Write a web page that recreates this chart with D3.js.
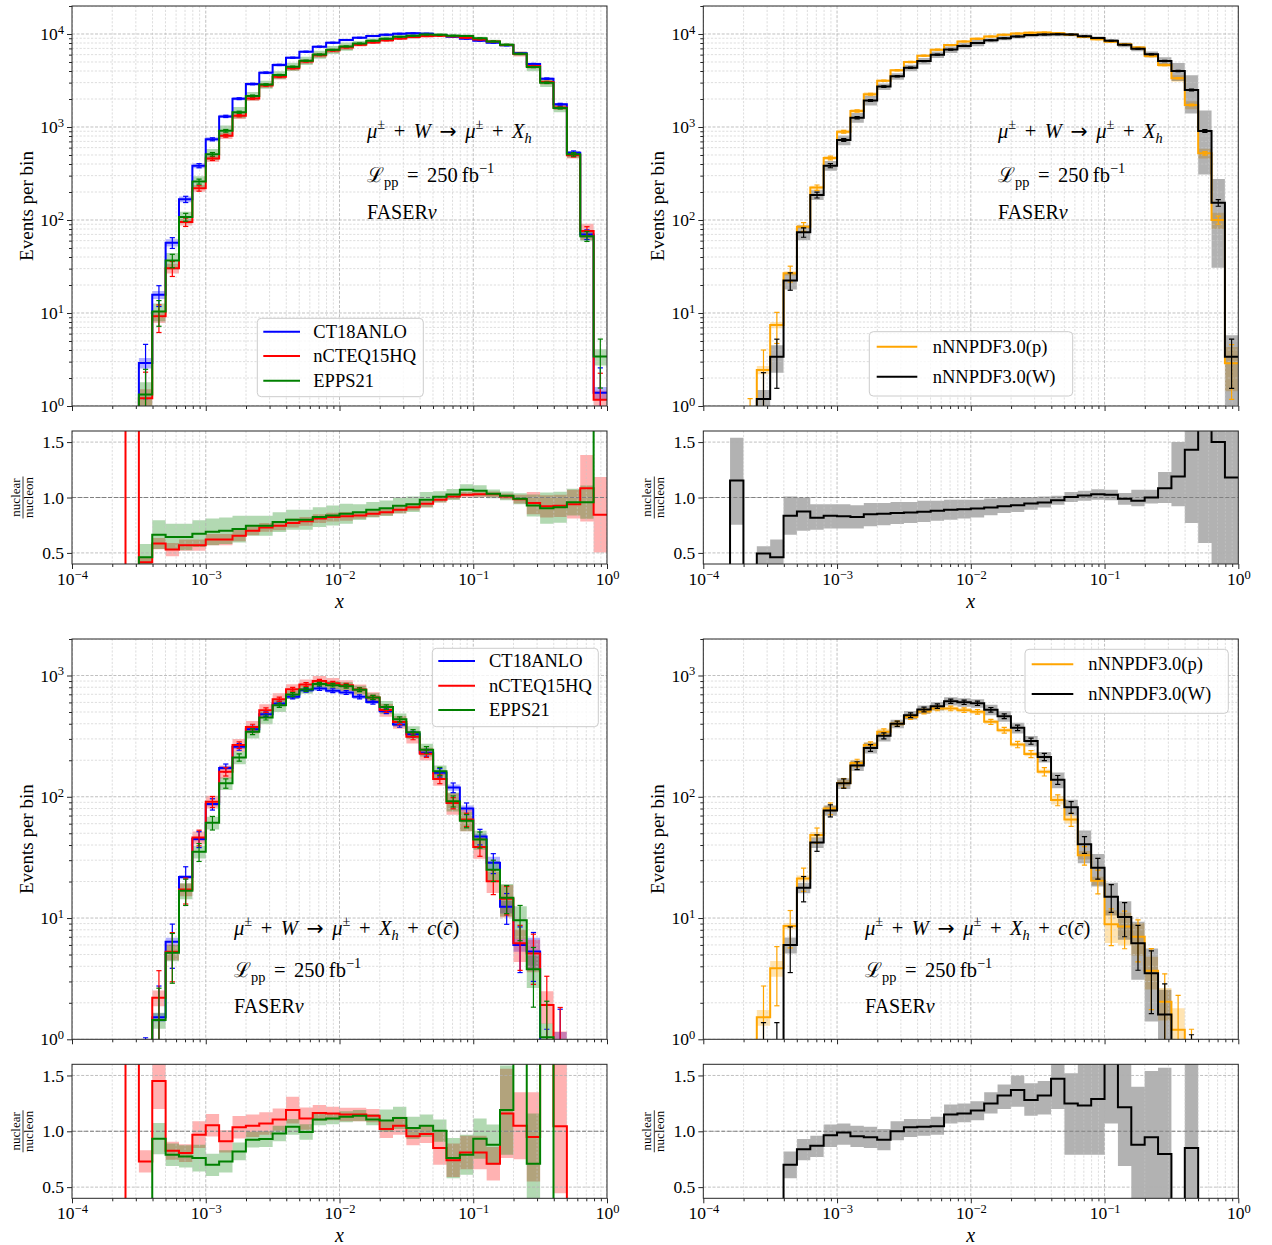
<!DOCTYPE html>
<html><head><meta charset="utf-8">
<script src="https://cdn.jsdelivr.net/npm/d3@7"></script>
<style>
body{margin:0;background:#fff}
svg{display:block}
text{font-family:"Liberation Serif","DejaVu Serif",serif;fill:#000}
</style>
</head><body>
<svg id="c" width="1272" height="1245"></svg>
<script>
// ---------------- DATA ----------------
// bin edges (log10 x), 40 bins of 0.1 decade from 1e-4 to 1
const binLog10Edges = [-4.0,-3.9,-3.8,-3.7,-3.6,-3.5,-3.4,-3.3,-3.2,-3.1,-3.0,-2.9,-2.8,-2.7,-2.6,-2.5,-2.4,-2.3,-2.2,-2.1,-2.0,-1.9,-1.8,-1.7,-1.6,-1.5,-1.4,-1.3,-1.2,-1.1,-1.0,-0.9,-0.8,-0.7,-0.6,-0.5,-0.4,-0.3,-0.2,-0.1,0.0];
const xTickExp = [-4,-3,-2,-1,0];
const yTickExpTop = [0,1,2,3,4];
const yTickExpBottom = [0,1,2,3];
const ratioTicks = [0.5,1.0,1.5];
const pdfNamesLeft = ["CT18ANLO","nCTEQ15HQ","EPPS21"];
const pdfNamesRight = ["nNNPDF3.0(p)","nNNPDF3.0(W)"];

// ---- Panel A: inclusive, CT18ANLO / nCTEQ15HQ / EPPS21 ----
const incCT18 = [0,0,0,0,0, 2.9,15.7,57,167,384, 738,1300,2016,2900,3840, 4650,5560,6450,7310,8060, 8620,9120,9510,9840,10070, 10170,10070,9750,9350,8910, 8480,8060,7550,6200,4760, 3310,1755,530,70,1.39];
const incCT18Err = [0,0,0,0,0, 1.7,3.96,7.55,12.9,19.6, 27.2,36,44.9,53.9,62, 68.2,74.6,80.3,85.5,89.8, 92.8,95.5,97.5,99.2,100.3, 100.8,100.3,98.7,96.7,94.4, 92.1,89.8,86.9,78.7,69, 57.5,41.9,23,8.4,1.18];
const incCT18Band = [0,0,0,0,0, 0.13,0.10,0.09,0.07,0.06, 0.05,0.04,0.04,0.04,0.04, 0.04,0.03,0.03,0.03,0.03, 0.03,0.03,0.03,0.03,0.03, 0.03,0.03,0.02,0.02,0.02, 0.02,0.02,0.02,0.03,0.03, 0.03,0.03,0.04,0.08,0.15];
const incNCTEQ = [0,0,0,0,0.3, 1.21,9.2,30.2,95,219, 458,806,1322,2030,2800, 3464,4281,5063,5921,6633, 7155,7643,8112,8541,8952, 9285,9496,9555,9434,9124, 8734,8302,7626,6107,4522, 3045,1623,498,76,1.17];
const incNCTEQErr = [0,0,0,0,0.55, 1.1,3.03,5.5,9.75,14.8, 21.4,28.4,36.4,45.1,52.9, 58.9,65.4,71.2,77,81.4, 84.6,87.4,90.1,92.4,94.6, 96.4,97.4,97.7,97.1,95.5, 93.5,91.1,87.3,78.1,67.2, 55.2,40.3,22.3,8.7,1.08];
const incNCTEQBand = [0,0,0,0,0.3, 0.25,0.15,0.12,0.08,0.08, 0.08,0.08,0.08,0.06,0.06, 0.06,0.06,0.06,0.06,0.06, 0.06,0.04,0.04,0.04,0.04, 0.04,0.04,0.03,0.03,0.03, 0.03,0.03,0.03,0.06,0.06, 0.06,0.06,0.08,0.2,0.25];
const incEPPS = [0,0,0,0,0, 1.33,10.4,36.7,107.5,259, 509,910,1441,2160,2860, 3618,4448,5160,6016,6754, 7353,7916,8454,8895,9315, 9560,9869,9809,9602,9525, 8989,8326,7663,6126,4417, 2992,1602,508,67,3.4];
const incEPPSErr = [0,0,0,0,0, 1.15,3.2,6.06,10.4,16.1, 22.6,30.2,38,46.5,53.5, 60.1,66.7,71.8,77.6,82.2, 85.7,89,91.9,94.3,96.5, 97.8,99.3,99,98,97.6, 94.8,91.2,87.5,78.3,66.5, 54.7,40,22.5,8.2,1.84];
const incEPPSBand = [0,0,0,0,0, 0.35,0.22,0.2,0.14,0.14, 0.14,0.14,0.14,0.1,0.1, 0.1,0.1,0.1,0.1,0.1, 0.1,0.06,0.06,0.06,0.06, 0.06,0.06,0.04,0.04,0.04, 0.04,0.04,0.04,0.05,0.1, 0.1,0.1,0.08,0.12,0.2];
const incRatioNCTEQ = [0,0,0,0,3, 0.416,0.584,0.53,0.57,0.57, 0.62,0.62,0.656,0.70,0.73, 0.745,0.77,0.785,0.81,0.823, 0.83,0.838,0.853,0.868,0.889, 0.913,0.943,0.98,1.009,1.024, 1.03,1.03,1.01,0.985,0.95, 0.92,0.925,0.94,1.084,0.844];
const incRatioNCTEQBand = [0,0,0,0,0, 0.05,0.05,0.06,0.05,0.05, 0.05,0.05,0.05,0.04,0.04, 0.04,0.04,0.04,0.04,0.04, 0.04,0.03,0.03,0.03,0.03, 0.03,0.03,0.025,0.025,0.025, 0.025,0.025,0.025,0.04,0.1, 0.1,0.1,0.13,0.3,0.34];
const incRatioEPPS = [0,0,0,0,0, 0.46,0.665,0.644,0.644,0.674, 0.69,0.70,0.715,0.745,0.745, 0.778,0.80,0.80,0.823,0.838, 0.853,0.868,0.889,0.904,0.925, 0.94,0.98,1.006,1.027,1.069, 1.06,1.033,1.015,0.988,0.928, 0.904,0.913,0.958,0.958,3];
const incRatioEPPSBand = [0,0,0,0,0, 0.12,0.13,0.12,0.12,0.12, 0.12,0.12,0.12,0.09,0.09, 0.09,0.09,0.09,0.09,0.09, 0.09,0.07,0.07,0.07,0.07, 0.07,0.07,0.05,0.05,0.05, 0.05,0.04,0.04,0.05,0.1, 0.14,0.14,0.12,0.15,1];

// ---- Panel B: inclusive, nNNPDF3.0(p) / nNNPDF3.0(W) ----
const incNNp = [0,0,0.3,0.5,2.44, 7.43,26.7,84.7,223,464, 891,1486,2248,3147,4065, 5000,5850,6780,7600,8300, 8900,9400,9800,10100,10300, 10350,10200,9800,9300,8800, 8250,7750,7150,5800,4645, 3340,1725,521,100,2.88];
const incNNpErr = [0,0,0.55,0.7,1.56, 2.73,5.17,9.2,14.9,21.5, 29.8,38.5,47.4,56.1,63.8, 70.7,76.5,82.3,87.2,91.1, 94.3,97,99,100.5,101.5, 101.7,101,99,96.4,93.8, 90.8,88,84.6,76.2,68.2, 57.8,41.5,22.8,10,1.7];
const incNNpBand = [0,0,0.1,0.1,0.1, 0.08,0.05,0.05,0.05,0.05, 0.05,0.05,0.05,0.03,0.03, 0.03,0.03,0.03,0.03,0.03, 0.03,0.03,0.03,0.03,0.03, 0.03,0.03,0.03,0.03,0.03, 0.03,0.03,0.03,0.04,0.05, 0.08,0.1,0.12,0.2,0.5];
const incNNW = [0,0,0.35,0,1.19, 3.39,22.3,73.8,186,384, 725,1260,1930,2720,3510, 4330,5110,6000,6800,7450, 8010,8550,9020,9390,9730, 9880,9950,9850,9470,9060, 8460,7660,6940,6050,5125, 4000,2500,906,153,3.39];
const incNNWErr = [0,0,0.6,0,1.09, 1.84,4.72,8.6,13.6,19.6, 26.9,35.5,43.9,52.2,59.2, 65.8,71.5,77.5,82.5,86.3, 89.5,92.5,95,96.9,98.6, 99.4,99.7,99.2,97.3,95.2, 92,87.5,83.3,77.8,71.6, 63.2,50,30.1,12.4,1.84];
const incNNWBand = [0,0,0.3,0,0.25, 0.33,0.2,0.18,0.12,0.12, 0.12,0.12,0.12,0.08,0.08, 0.08,0.08,0.08,0.08,0.08, 0.08,0.05,0.05,0.05,0.05, 0.05,0.05,0.04,0.04,0.04, 0.04,0.06,0.06,0.07,0.1, 0.22,0.44,0.66,0.8,0.7];
const incRatioNN = [0,0,1.153,0,0.494, 0.46,0.835,0.874,0.817,0.835, 0.83,0.823,0.85,0.853,0.86, 0.865,0.871,0.88,0.889,0.893, 0.90,0.91,0.92,0.93,0.945, 0.955,0.975,1.005,1.018,1.03, 1.025,0.988,0.97,1.0,1.084, 1.19,1.43,1.75,1.5,1.18];
const incRatioNNLo = [0,0,0.755,0,0.3, 0.3,0.665,0.70,0.71,0.72, 0.72,0.72,0.74,0.75,0.76, 0.77,0.78,0.79,0.80,0.81, 0.82,0.84,0.86,0.87,0.89, 0.91,0.935,0.96,0.97,0.98, 0.975,0.935,0.92,0.945,0.95, 0.92,0.77,0.59,0.3,0.3];
const incRatioNNHi = [0,0,1.54,0,0.56, 0.62,1.01,1.0,0.94,0.94, 0.94,0.93,0.95,0.95,0.96, 0.96,0.97,0.97,0.98,0.98, 0.98,0.99,1.0,1.0,1.005, 1.01,1.015,1.05,1.06,1.075, 1.07,1.04,1.07,1.07,1.23, 1.5,1.8,2,2,2];

// ---- Panel C: charm, CT18ANLO / nCTEQ15HQ / EPPS21 ----
const charmCT18 = [0,0,0,0,0, 0.4,1.52,6.38,21.8,44.8, 87,173,258,361,480, 588,667,757,780,750, 724,667,606,508,394, 328,231,158,119,80, 47,28.6,12.4,6.0,5.3, 0.5,0.85,0,0,0];
const charmCT18Err = [0,0,0,0,0, 0.63,1.23,2.53,4.67,6.7, 9.3,13.2,16.1,19,21.9, 24.2,25.8,27.5,27.9,27.4, 26.9,25.8,24.6,22.5,19.8, 18.1,15.2,12.6,10.9,8.9, 6.9,5.35,3.52,2.45,2.3, 0.71,0.92,0,0,0];
const charmCT18Band = [0,0,0,0,0, 0.1,0.08,0.08,0.04,0.04, 0.04,0.04,0.04,0.04,0.04, 0.04,0.04,0.04,0.04,0.04, 0.04,0.04,0.04,0.04,0.04, 0.04,0.04,0.04,0.06,0.06, 0.06,0.12,0.12,0.12,0.3, 0.35,0.35,0,0,0];
const charmNCTEQ = [0,0,0,0,0.3, 0.29,2.2,5.28,17.2,46.2, 91,161,267,377,518, 638,771,843,900,865, 832,767,660,520,414, 313,226,140,89,65, 38.5,20.1,14.4,6.2,5.1, 1.92,0.89,0,0,0];
const charmNCTEQErr = [0,0,0,0,0.55, 0.54,1.48,2.3,4.15,6.8, 9.5,12.7,16.3,19.4,22.8, 25.3,27.8,29,30,29.4, 28.8,27.7,25.7,22.8,20.3, 17.7,15,11.8,9.4,8.1, 6.2,4.5,3.8,2.5,2.26, 1.39,0.94,0,0,0];
const charmNCTEQBand = [0,0,0,0,0.15, 0.15,0.15,0.15,0.12,0.12, 0.12,0.12,0.12,0.12,0.12, 0.12,0.1,0.1,0.1,0.1, 0.1,0.1,0.1,0.12,0.12, 0.12,0.12,0.12,0.2,0.2, 0.2,0.2,0.3,0.3,0.3, 0.3,0.3,0,0,0];
const charmEPPS = [0,0,0,0,0, 0,1.44,5.18,16.8,35.2, 61,129,211,344,451, 569,697,767,850,833, 815,763,660,550,435, 340,244,162,92,63.5, 44.5,25,14.7,9.6,3.78, 1.04,0,0,0,0];
const charmEPPSErr = [0,0,0,0,0, 0,1.2,2.28,4.1,5.93, 7.8,11.4,14.5,18.5,21.2, 23.9,26.4,27.7,29.2,28.9, 28.5,27.6,25.7,23.5,20.9, 18.4,15.6,12.7,9.6,8, 6.7,5,3.83,3.1,1.94, 1.02,0,0,0,0];
const charmEPPSBand = [0,0,0,0,0, 0,0.15,0.15,0.15,0.12, 0.12,0.12,0.12,0.12,0.12, 0.12,0.08,0.08,0.08,0.08, 0.08,0.08,0.08,0.12,0.12, 0.12,0.12,0.12,0.18,0.18, 0.18,0.18,0.3,0.3,0.3, 0.3,0,0,0,0];
const charmRatioNCTEQ = [0,0,0,0,3, 0.73,1.45,0.826,0.805,0.97, 1.054,0.91,1.036,1.05,1.07, 1.105,1.19,1.114,1.165,1.16, 1.15,1.15,1.14,1.02,1.05, 0.955,0.976,0.85,0.74,0.81, 0.81,0.71,1.16,1.05,0.95, 3,1.045,0,0,0];
const charmRatioNCTEQBand = [0,0,0,0,0, 0.1,0.25,0.08,0.08,0.12, 0.1,0.1,0.1,0.1,0.1, 0.1,0.12,0.1,0.07,0.06, 0.06,0.06,0.06,0.08,0.08, 0.08,0.08,0.15,0.15,0.15, 0.15,0.15,0.4,0.3,0.4, 0,0.6,0,0,0];
const charmRatioEPPS = [0,0,0,0,0, 0,0.934,0.79,0.775,0.76, 0.70,0.73,0.82,0.925,0.93, 0.98,1.04,0.994,1.105,1.114, 1.13,1.14,1.105,1.096,1.12, 1.03,1.05,1.006,0.76,0.79, 0.934,0.88,1.19,3,0.71, 3,0,0,0,0];
const charmRatioEPPSBand = [0,0,0,0,0, 0,0.14,0.1,0.1,0.12, 0.1,0.1,0.08,0.07,0.07, 0.07,0.07,0.07,0.05,0.05, 0.05,0.05,0.05,0.1,0.1, 0.1,0.1,0.1,0.18,0.18, 0.18,0.18,0.4,0,0.45, 0,0,0,0,0];

// ---- Panel D: charm, nNNPDF3.0(p) / nNNPDF3.0(W) ----
const charmNNp = [0,0,0,0,1.52, 3.85,8.6,21.2,48.3,80, 130,190,267,344,400, 455,505,535,535,518, 502,415,354,270,225, 161,94,65,33,20.3, 8.9,8.5,7.0,3.68,2.04, 1.2,0.5,0,0,0];
const charmNNpErr = [0,0,0,0,1.23, 1.96,2.93,4.6,6.95,8.94, 11.4,13.8,16.3,18.5,20, 21.3,22.5,23.1,23.1,22.8, 22.4,20.4,18.8,16.4,15, 12.7,9.7,8.06,5.74,4.5, 2.98,2.92,2.65,1.92,1.43, 1.1,0.71,0,0,0];
const charmNNpBand = [0,0,0,0,0.15, 0.15,0.06,0.06,0.06,0.06, 0.06,0.06,0.06,0.06,0.04, 0.04,0.04,0.04,0.04,0.04, 0.04,0.04,0.04,0.04,0.04, 0.04,0.08,0.08,0.08,0.08, 0.3,0.3,0.3,0.3,0.3, 0.5,0.5,0,0,0];
const charmNNW = [0,0,0,0,0.6, 0.6,6.0,17.8,42,77, 129,181,253,318,400, 471,525,559,614,601, 590,522,462,370,288, 213,138,82,40.5,26, 15,10.2,6.2,3.5,1.6, 0,0.43,0,0,0];
const charmNNWErr = [0,0,0,0,0.77, 0.77,2.45,4.2,6.5,8.8, 11.4,13.5,15.9,17.8,20, 21.7,22.9,23.6,24.8,24.5, 24.3,22.8,21.5,19.2,17, 14.6,11.7,9.06,6.36,5.1, 3.87,3.19,2.49,1.87,1.26, 0,0.66,0,0,0];
const charmNNWBand = [0,0,0,0,0.3, 0.3,0.15,0.1,0.1,0.1, 0.1,0.1,0.1,0.1,0.08, 0.08,0.08,0.08,0.08,0.08, 0.08,0.1,0.1,0.1,0.1, 0.1,0.15,0.15,0.3,0.3, 0.3,0.35,0.5,0.6,0.6, 0,0.6,0,0,0];
const charmRatioNN = [0,0,0,0,0, 0,0.70,0.84,0.87,0.964, 0.99,0.955,0.946,0.925,1.0, 1.036,1.04,1.045,1.15,1.16, 1.186,1.25,1.32,1.37,1.28, 1.32,1.47,1.25,1.23,1.29, 1.7,1.215,0.88,0.946,0.796, 0,0.85,0,0,0];
const charmRatioNNLo = [0,0,0,0,0, 0,0.58,0.74,0.77,0.86, 0.88,0.86,0.85,0.83,0.92, 0.95,0.96,0.97,1.07,1.08, 1.10,1.16,1.20,1.22,1.14, 1.15,1.2,0.79,0.79,0.79, 1.07,0.69,0.3,0.3,0.3, 0,0.3,0,0,0];
const charmRatioNNHi = [0,0,0,0,0, 0,0.82,0.93,0.96,1.06, 1.07,1.05,1.04,1.02,1.09, 1.11,1.11,1.13,1.24,1.25, 1.27,1.35,1.42,1.5,1.43, 1.45,1.7,1.52,1.7,1.7, 1.7,1.7,1.4,1.54,1.57, 0,1.7,0,0,0];

// ---------------- DRAWING ----------------
const FONT = '"Liberation Serif","DejaVu Serif",serif';
const svg = d3.select("#c");
const defs = svg.append("defs");
const edges = binLog10Edges.map(e => Math.pow(10, e));
const NB = edges.length - 1;
const FLOOR = 1e-3;
const isPow10 = v => Math.abs(Math.log10(v) - Math.round(Math.log10(v))) < 1e-6;

const rows = [
  {mainTop: 6, mainBot: 406, ratTop: 431, ratBot: 564, yMax: 2e4, yExp: yTickExpTop},
  {mainTop: 639, mainBot: 1039.3, ratTop: 1064.3, ratBot: 1198.3, yMax: 2e3, yExp: yTickExpBottom}
];
const cols = [[72, 607], [703.3, 1238.3]];

function clip(id, x, y, w, h) {
  defs.append("clipPath").attr("id", id).append("rect").attr("x", x).attr("y", y).attr("width", w).attr("height", h);
}
function stepPts(vals) {
  const pts = [];
  for (let k = 0; k < NB; k++) { pts.push({x: edges[k], v: vals[k], k}); pts.push({x: edges[k + 1], v: vals[k], k}); }
  return pts;
}
function gridLines(g, x, yTop, yBot, yScale, yVals, xr) {
  x.ticks().forEach(v => {
    const maj = isPow10(v);
    g.append("line").attr("x1", x(v)).attr("x2", x(v)).attr("y1", yTop).attr("y2", yBot)
      .attr("stroke", maj ? "#b0b0b0" : "#c8c8c8").attr("stroke-width", maj ? 0.8 : 0.6)
      .attr("stroke-dasharray", maj ? "3,1.6" : "2.2,1.6");
  });
  yVals.forEach(v => {
    const maj = yScale.base ? isPow10(v) : true;
    g.append("line").attr("x1", xr[0]).attr("x2", xr[1]).attr("y1", yScale(v)).attr("y2", yScale(v))
      .attr("stroke", maj ? "#b0b0b0" : "#c8c8c8").attr("stroke-width", maj ? 0.8 : 0.6)
      .attr("stroke-dasharray", maj ? "3,1.6" : "2.2,1.6");
  });
}
function styleAxis(g) {
  g.attr("font-family", FONT).attr("font-size", 17.5).attr("color", "#262626");
  g.select(".domain").remove();
  g.selectAll(".tick text").attr("fill", "#000");
}
function powLabels(g) {
  g.selectAll(".tick text").each(function(d) {
    const e = Math.round(Math.log10(d));
    const t = d3.select(this);
    t.text("");
    t.append("tspan").text("10");
    t.append("tspan").attr("dy", "-0.5em").attr("font-size", "12.5px").text(e < 0 ? "\u2212" + (-e) : String(e));
  });
}
function mathLine(x, y, parts, fs) {
  const t = svg.append("text").attr("x", x).attr("y", y).attr("font-size", fs).attr("font-family", FONT);
  let off = 0;
  parts.forEach(p => {
    const target = p.sup ? -0.42 * fs : (p.sub ? 0.26 * fs : 0);
    const ts = t.append("tspan").attr("dy", target - off).text(p.t);
    off = target;
    if (p.it) ts.attr("font-style", "italic");
    if (p.sup || p.sub) ts.attr("font-size", fs * 0.7);
    if (p.font) ts.attr("font-family", p.font);
  });
}

function drawPanel(P) {
  const xr = cols[P.col], row = rows[P.row];
  const x = d3.scaleLog().domain([1e-4, 1]).range(xr);
  const y = d3.scaleLog().domain([1, row.yMax]).range([row.mainBot, row.mainTop]);
  const yr = d3.scaleLinear().domain([0.4, 1.6]).range([row.ratBot, row.ratTop]);
  const W = xr[1] - xr[0];
  clip(P.id + "m", xr[0], row.mainTop, W, row.mainBot - row.mainTop);
  clip(P.id + "r", xr[0], row.ratTop, W, row.ratBot - row.ratTop);

  // ----- main panel -----
  const gm = svg.append("g").attr("clip-path", `url(#${P.id}m)`);
  P.main.forEach(s => {
    const area = d3.area().defined(d => d.v > 0 && s.band[d.k] > 0)
      .x(d => x(d.x))
      .y0(d => y(Math.max(d.v * (1 - s.band[d.k]), FLOOR)))
      .y1(d => y(d.v * (1 + s.band[d.k])));
    gm.append("path").attr("d", area(stepPts(s.vals))).attr("fill", s.color).attr("fill-opacity", 0.3).attr("stroke", "none");
  });
  gridLines(gm, x, row.mainTop, row.mainBot, y, y.ticks(), xr);
  P.main.forEach(s => {
    const line = d3.line().x(d => x(d.x)).y(d => y(Math.max(d.v, FLOOR)));
    gm.append("path").attr("d", line(stepPts(s.vals))).attr("fill", "none").attr("stroke", s.color).attr("stroke-width", 2);
    const ge = gm.append("g").attr("stroke", s.color).attr("stroke-width", 1.2);
    s.vals.forEach((v, k) => {
      if (!(v > 0)) return;
      const xc = x(Math.sqrt(edges[k] * edges[k + 1]));
      const yl = y(Math.max(v - s.err[k], FLOOR)), yh = y(v + s.err[k]);
      ge.append("line").attr("x1", xc).attr("x2", xc).attr("y1", yl).attr("y2", yh);
      ge.append("line").attr("x1", xc - 2.6).attr("x2", xc + 2.6).attr("y1", yl).attr("y2", yl);
      ge.append("line").attr("x1", xc - 2.6).attr("x2", xc + 2.6).attr("y1", yh).attr("y2", yh);
    });
  });
  // axes main
  const xMaj = xTickExp.map(e => Math.pow(10, e));
  const xMin = x.ticks().filter(v => !isPow10(v));
  const axM = svg.append("g").attr("transform", `translate(0,${row.mainBot})`);
  axM.append("g").call(d3.axisBottom(x).tickValues(xMaj).tickSize(5).tickFormat(() => "")).call(styleAxis);
  axM.append("g").call(d3.axisBottom(x).tickValues(xMin).tickSize(3).tickFormat(() => "")).call(styleAxis);
  const yMaj = row.yExp.map(e => Math.pow(10, e));
  const yMin = y.ticks().filter(v => !isPow10(v));
  const ayM = svg.append("g").attr("transform", `translate(${xr[0]},0)`);
  ayM.append("g").call(d3.axisLeft(y).tickValues(yMaj).tickSize(5).tickPadding(3)).call(styleAxis).call(powLabels);
  ayM.append("g").call(d3.axisLeft(y).tickValues(yMin).tickSize(3).tickFormat(() => "")).call(styleAxis);
  svg.append("rect").attr("x", xr[0]).attr("y", row.mainTop).attr("width", W).attr("height", row.mainBot - row.mainTop)
    .attr("fill", "none").attr("stroke", "#262626").attr("stroke-width", 1);

  // ----- ratio panel -----
  const gr = svg.append("g").attr("clip-path", `url(#${P.id}r)`);
  P.ratio.forEach(s => {
    const lo = k => s.lo ? s.lo[k] : s.vals[k] - s.band[k];
    const hi = k => s.hi ? s.hi[k] : s.vals[k] + s.band[k];
    const area = d3.area().defined(d => hi(d.k) > lo(d.k) && (s.lo ? true : s.band[d.k] > 0))
      .x(d => x(d.x)).y0(d => yr(lo(d.k))).y1(d => yr(hi(d.k)));
    gr.append("path").attr("d", area(stepPts(s.vals))).attr("fill", s.color).attr("fill-opacity", 0.3).attr("stroke", "none");
  });
  gridLines(gr, x, row.ratTop, row.ratBot, yr, ratioTicks, xr);
  gr.append("line").attr("x1", xr[0]).attr("x2", xr[1]).attr("y1", yr(1)).attr("y2", yr(1))
    .attr("stroke", "#808080").attr("stroke-width", 1.1).attr("stroke-dasharray", "4,2");
  P.ratio.forEach(s => {
    const line = d3.line().x(d => x(d.x)).y(d => yr(d.v));
    gr.append("path").attr("d", line(stepPts(s.vals))).attr("fill", "none").attr("stroke", s.color).attr("stroke-width", 2);
  });
  const axR = svg.append("g").attr("transform", `translate(0,${row.ratBot})`);
  axR.append("g").call(d3.axisBottom(x).tickValues(xMaj).tickSize(5).tickPadding(3.5)).call(styleAxis).call(powLabels);
  axR.append("g").call(d3.axisBottom(x).tickValues(xMin).tickSize(3).tickFormat(() => "")).call(styleAxis);
  svg.append("g").attr("transform", `translate(${xr[0]},0)`)
    .call(d3.axisLeft(yr).tickValues(ratioTicks).tickSize(5).tickPadding(3).tickFormat(d3.format(".1f"))).call(styleAxis);
  svg.append("rect").attr("x", xr[0]).attr("y", row.ratTop).attr("width", W).attr("height", row.ratBot - row.ratTop)
    .attr("fill", "none").attr("stroke", "#262626").attr("stroke-width", 1);

  // ----- labels -----
  const ylx = xr[0] - 39;
  svg.append("text").attr("transform", `translate(${ylx},${(row.mainTop + row.mainBot) / 2}) rotate(-90)`)
    .attr("text-anchor", "middle").attr("font-size", 19).text("Events per bin");
  const fr = svg.append("g").attr("transform", `translate(${xr[0] - 49},${yr(1)}) rotate(-90)`);
  fr.append("text").attr("x", 0).attr("y", -3).attr("text-anchor", "middle").attr("font-size", 13).text("nuclear");
  fr.append("line").attr("x1", -21).attr("x2", 21).attr("y1", 0).attr("y2", 0).attr("stroke", "#000").attr("stroke-width", 0.8);
  fr.append("text").attr("x", 0).attr("y", 10).attr("text-anchor", "middle").attr("font-size", 13).text("nucleon");
  svg.append("text").attr("x", (xr[0] + xr[1]) / 2).attr("y", row.ratBot + 44).attr("text-anchor", "middle")
    .attr("font-size", 20).attr("font-style", "italic").text("x");

  // ----- legend -----
  const L = P.legend;
  svg.append("rect").attr("x", L.x).attr("y", L.y).attr("width", L.w).attr("height", L.h).attr("rx", 4)
    .attr("fill", "#fff").attr("fill-opacity", 0.8).attr("stroke", "#cccccc").attr("stroke-width", 1);
  L.names.forEach((n, i) => {
    svg.append("line").attr("x1", L.l0).attr("x2", L.l1).attr("y1", L.rows[i]).attr("y2", L.rows[i])
      .attr("stroke", P.main[i].color).attr("stroke-width", 2);
    svg.append("text").attr("x", L.tx).attr("y", L.rows[i] + 6).attr("font-size", 18.5).text(n);
  });

  // ----- annotation -----
  const A = P.annot, fs = 20.5, sp = "\u2005\u2006";
  const arrowFont = '"DejaVu Sans",sans-serif';
  const l1 = [{t: "\u03bc", it: 1}, {t: "\u00b1", sup: 1}, {t: sp + "+" + sp}, {t: "W", it: 1}, {t: sp},
    {t: "\u2192", font: arrowFont}, {t: sp},
    {t: "\u03bc", it: 1}, {t: "\u00b1", sup: 1}, {t: sp + "+" + sp}, {t: "X", it: 1}, {t: "h", it: 1, sub: 1}];
  if (A.charm) l1.push({t: sp + "+" + sp}, {t: "c", it: 1}, {t: "("}, {t: "c\u0304", it: 1}, {t: ")"});
  mathLine(A.x, A.ys[0], l1, fs);
  mathLine(A.x, A.ys[1], [{t: "\u2112"}, {t: "pp", sub: 1}, {t: sp + "=" + sp + "250\u2009fb"}, {t: "\u22121", sup: 1}], fs);
  mathLine(A.x, A.ys[2], [{t: "FASER"}, {t: "\u03bd", it: 1}], 20);
}

const BLUE = "#0000ff", RED = "#ff0000", GREEN = "#008000", ORANGE = "#ffa500", BLACK = "#000000";

drawPanel({id: "A", col: 0, row: 0,
  main: [{vals: incCT18, err: incCT18Err, band: incCT18Band, color: BLUE},
         {vals: incNCTEQ, err: incNCTEQErr, band: incNCTEQBand, color: RED},
         {vals: incEPPS, err: incEPPSErr, band: incEPPSBand, color: GREEN}],
  ratio: [{vals: incRatioNCTEQ, band: incRatioNCTEQBand, color: RED},
          {vals: incRatioEPPS, band: incRatioEPPSBand, color: GREEN}],
  legend: {x: 257.3, y: 318.3, w: 166, h: 78.4, l0: 263.3, l1: 300, tx: 313.3, rows: [331.7, 356, 380.7], names: pdfNamesLeft},
  annot: {x: 367, ys: [138, 182, 219], charm: false}});

drawPanel({id: "B", col: 1, row: 0,
  main: [{vals: incNNp, err: incNNpErr, band: incNNpBand, color: ORANGE},
         {vals: incNNW, err: incNNWErr, band: incNNWBand, color: BLACK}],
  ratio: [{vals: incRatioNN, lo: incRatioNNLo, hi: incRatioNNHi, color: BLACK}],
  legend: {x: 869.3, y: 331.7, w: 203.4, h: 64.3, l0: 876.7, l1: 917.3, tx: 932.7, rows: [346.7, 376.7], names: pdfNamesRight},
  annot: {x: 998, ys: [138, 182, 219], charm: false}});

drawPanel({id: "C", col: 0, row: 1,
  main: [{vals: charmCT18, err: charmCT18Err, band: charmCT18Band, color: BLUE},
         {vals: charmNCTEQ, err: charmNCTEQErr, band: charmNCTEQBand, color: RED},
         {vals: charmEPPS, err: charmEPPSErr, band: charmEPPSBand, color: GREEN}],
  ratio: [{vals: charmRatioNCTEQ, band: charmRatioNCTEQBand, color: RED},
          {vals: charmRatioEPPS, band: charmRatioEPPSBand, color: GREEN}],
  legend: {x: 432.3, y: 648.3, w: 166, h: 78.4, l0: 438.3, l1: 475, tx: 489, rows: [661, 685.7, 710], names: pdfNamesLeft},
  annot: {x: 234, ys: [935, 977, 1013], charm: true}});

drawPanel({id: "D", col: 1, row: 1,
  main: [{vals: charmNNp, err: charmNNpErr, band: charmNNpBand, color: ORANGE},
         {vals: charmNNW, err: charmNNWErr, band: charmNNWBand, color: BLACK}],
  ratio: [{vals: charmRatioNN, lo: charmRatioNNLo, hi: charmRatioNNHi, color: BLACK}],
  legend: {x: 1025, y: 649.3, w: 203.3, h: 64, l0: 1031.7, l1: 1073.3, tx: 1088.3, rows: [664.3, 694], names: pdfNamesRight},
  annot: {x: 865, ys: [935, 977, 1013], charm: true}});
</script>
</body></html>
